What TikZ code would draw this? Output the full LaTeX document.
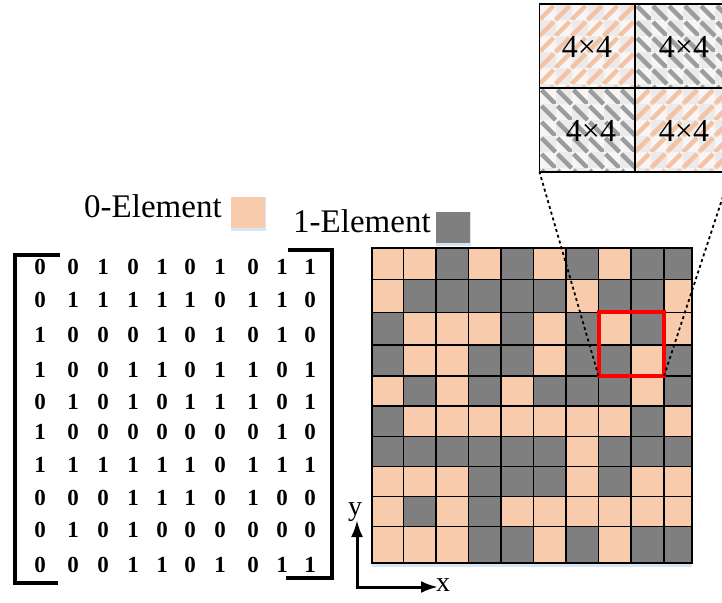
\documentclass[tikz,border=0pt]{standalone}
\usepackage{fontspec}
\setmainfont{Liberation Serif}
\usetikzlibrary{arrows.meta}
\definecolor{peach}{HTML}{F8CBAD}
\definecolor{cellgray}{HTML}{7F7F7F}
\definecolor{shadowblue}{HTML}{D6E4F4}
\definecolor{tileA}{HTML}{F6F6F6}
\definecolor{tileB}{HTML}{EBEBEB}
\definecolor{stripegray}{HTML}{9C9C9C}
\definecolor{stripepeach}{HTML}{F5C3A4}
\tikzset{
  digit/.style={font=\fontsize{23}{23}\selectfont\bfseries, inner sep=0pt, anchor=center},
  legendtext/.style={font=\fontsize{33}{33}\selectfont, inner sep=0pt, anchor=base west},
  axislabel/.style={font=\fontsize{28}{28}\selectfont, inner sep=0pt},
  insettext/.style={font=\fontsize{32}{32}\selectfont, inner sep=0pt},
  bracketline/.style={line width=4pt, line cap=butt, line join=miter},
  cellbox/.style={draw=black, line width=1.2pt},
  zoomline/.style={dash pattern=on 3pt off 3pt, line width=1.8pt},
  axisarrow/.style={line width=3pt, -{Latex[length=17pt,width=12pt]}},
}
\def\XS{372,403.5,436,468.5,501,533.5,566,598.5,631,664,692}
\def\YS{248,279.5,312.5,345,376,406,436.5,466.5,496.5,526.5,563}
\def\MX{40,73,103,133,162,190,220,253,282,310}
\def\MY{267,300,335,370,402,432,465,498,530,565}
\begin{document}
\begin{tikzpicture}[x=1pt,y=-1pt]
\useasboundingbox (0,0) rectangle (722,602);
\clip (0,0) rectangle (722,602);
\fill[white] (0,0) rectangle (722,602);

% ---- grid and matrix ----
\foreach \row [count=\r from 0] in {
  {0,0,1,0,1,0,1,0,1,1},
  {0,1,1,1,1,1,0,1,1,0},
  {1,0,0,0,1,0,1,0,1,0},
  {1,0,0,1,1,0,1,1,0,1},
  {0,1,0,1,0,1,1,1,0,1},
  {1,0,0,0,0,0,0,0,1,0},
  {1,1,1,1,1,1,0,1,1,1},
  {0,0,0,1,1,1,0,1,0,0},
  {0,1,0,1,0,0,0,0,0,0},
  {0,0,0,1,1,0,1,0,1,1}} {
  \pgfmathsetmacro\ya{{\YS}[\r]}
  \pgfmathsetmacro\yb{{\YS}[\r+1]}
  \pgfmathsetmacro\my{{\MY}[\r]}
  \foreach \v [count=\c from 0] in \row {
    \pgfmathsetmacro\xa{{\XS}[\c]}
    \pgfmathsetmacro\xb{{\XS}[\c+1]}
    \pgfmathsetmacro\mx{{\MX}[\c]}
    \ifnum\v=1 \def\cc{cellgray}\else\def\cc{peach}\fi
    \filldraw[cellbox, fill=\cc] (\xa,\ya) rectangle (\xb,\yb);
    \node[digit] (m-\r-\c) at (\mx,\my) {\v};
  }
}
% shadow under grid
\fill[shadowblue] (372,564) rectangle (692,567);

% red selection
\draw[red, line width=4pt] (598.5,312) rectangle (664,376);
\coordinate (selBL) at (598.5,376);
\coordinate (selBR) at (664,376);

% matrix brackets
\draw[bracketline] (60,255) -- (15,255) -- (15,583) -- (58,583);
\draw[bracketline] (288,250) -- (332,250) -- (332,577.5) -- (286,577.5);

% ---- legend ----
\node[legendtext] (zeroLabel) at (84,217) {0-Element};
\fill[shadowblue] (231,197) rectangle (266,231);
\fill[peach] (231,197) rectangle (264.5,228);
\node[legendtext] (oneLabel) at (293,232) {1-Element};
\fill[shadowblue] (436,212) rectangle (471,246);
\fill[cellgray] (436,212) rectangle (469.5,243);

% ---- inset ----
\foreach \cx/\cy/\kind [count=\k] in {539.5/4/0, 635/4/1, 539.5/88/1, 635/88/0} {
  \begin{scope}
    \clip (\cx,\cy) rectangle ++(96,84);
    \fill[tileA] (\cx,\cy) rectangle ++(96,84);
    \foreach \i in {0,...,5} {
      \foreach \j in {0,...,5} {
        \pgfmathtruncatemacro\tpar{mod(\i+\j,2)}
        \ifnum\tpar=1
          \fill[tileB] (\cx+\i*16,\cy+\j*16) rectangle ++(16,16);
        \fi
        \ifnum\kind=0
          \draw[stripepeach, line width=4.5pt] (\cx+\i*16,\cy+\j*16+16) -- (\cx+\i*16+14,\cy+\j*16+2);
        \else
          \draw[stripegray, line width=4.5pt] (\cx+\i*16+2,\cy+\j*16+2) -- (\cx+\i*16+16,\cy+\j*16+16);
        \fi
      }
    }
  \end{scope}
}
\draw[line width=1.6pt] (539.5,4) rectangle (731,172);
\draw[line width=1.6pt] (635,4) -- (635,172);
\draw[line width=1.6pt] (539.5,88) -- (731,88);
\node[insettext] (inTL) at (587,47) {4×4};
\node[insettext] (inTR) at (684,47) {4×4};
\node[insettext] (inBL) at (591,131) {4×4};
\node[insettext] (inBR) at (684,131) {4×4};
\coordinate (inBLc) at (539.5,172);
\coordinate (inBRc) at (731,172);

% zoom lines
\draw[zoomline] (selBL) -- (inBLc);
\draw[zoomline] (selBR) -- (inBRc);

% ---- axes ----
\coordinate (origin) at (357,587);
\coordinate (yend) at (357,520);
\coordinate (xend) at (438,587);
\draw[axisarrow] (origin) -- (yend);
\draw[axisarrow] ([xshift=-1.5pt]origin) -- (xend);
\node[axislabel] (ylab) at (355,512) {y};
\node[axislabel, anchor=west] (xlab) at (436,585) {x};
\end{tikzpicture}
\end{document}
